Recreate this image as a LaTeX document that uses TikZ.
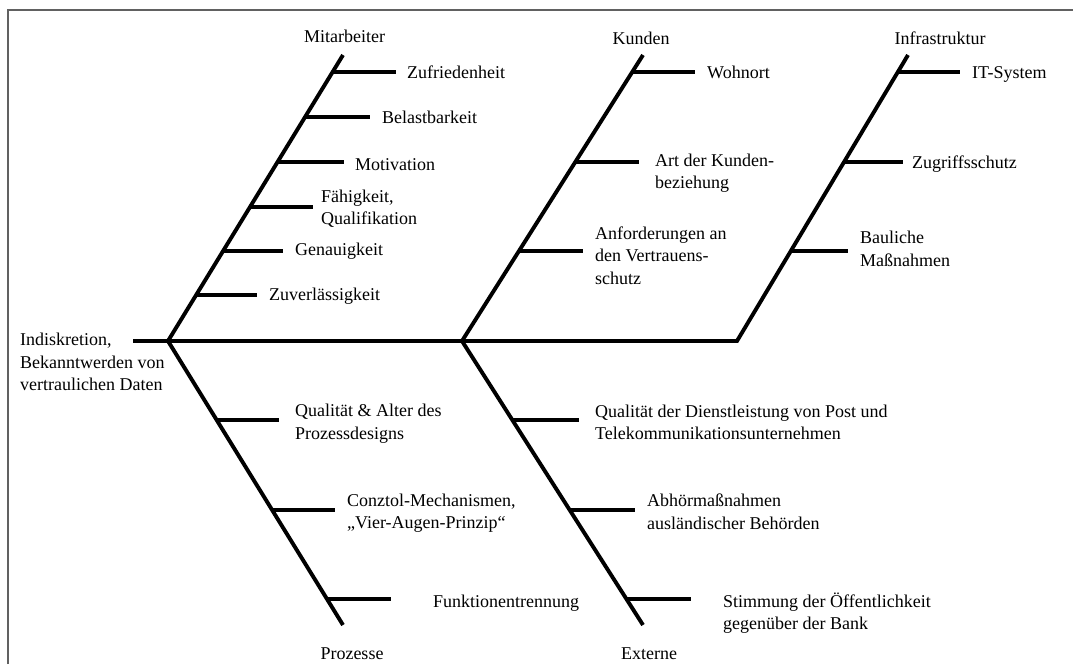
\documentclass[tikz,border=0pt]{standalone}
\usepackage{fontspec}
\setmainfont{Liberation Serif}
\begin{document}
\begin{tikzpicture}[x=1pt,y=-1pt,
  bone/.style={line width=3.9pt, line join=miter, black},
  rib/.style={line width=3.9pt, black},
  lab/.style={anchor=west, inner sep=0pt, align=left,
    font=\fontsize{18}{22.5}\selectfont,
    execute at begin node=\strut, execute at end node=\strut},
  ttl/.style={lab, anchor=center, align=center},
  frameline/.style={line width=2pt, draw=black!62}]
\useasboundingbox (0,0) rectangle (1073,664);

% open frame: top and left edge only
\coordinate (fBL) at (8,664);
\coordinate (fTL) at (8,10);
\coordinate (fTR) at (1073,10);
\draw[frameline] (fBL) -- (fTL) -- (fTR);

% spine and main bones
\coordinate (head) at (133,341);
\coordinate (j1) at (168,341);
\coordinate (j2) at (462,341);
\coordinate (j3) at (737,341);
\coordinate (mTop) at (343,55);
\coordinate (kTop) at (643,55);
\coordinate (iTop) at (908,55);
\coordinate (pEnd) at (343,625);
\coordinate (eEnd) at (643,625);

\draw[bone] (head) -- (j3) -- (iTop);
\draw[bone] (mTop) -- (j1) -- (pEnd);
\draw[bone] (kTop) -- (j2) -- (eEnd);

% effect
\node[lab] (effect) at (20,365.6) {Indiskretion,\\Bekanntwerden von\\vertraulichen Daten};

% category titles
\node[ttl] (tM) at (344.5,38.3) {Mitarbeiter};
\node[ttl] (tK) at (641,40) {Kunden};
\node[ttl] (tI) at (940,40) {Infrastruktur};
\node[ttl] (tP) at (352,655) {Prozesse};
\node[ttl] (tE) at (649,655) {Externe};

% Mitarbeiter
\foreach \n/\xa/\xb/\y in {m1/332.6/396/72, m2/305.1/370/117, m3/277.5/344/162,
                           m4/250/313/207, m5/223/283/251, m6/196/257/295}{
  \coordinate (\n a) at (\xa,\y);
  \coordinate (\n b) at (\xb,\y);
  \draw[rib] (\n a) -- (\n b);
}
\node[lab] (lm1) at (407,74) {Zufriedenheit};
\node[lab] (lm2) at (382,119) {Belastbarkeit};
\node[lab] (lm3) at (355,165.6) {Motivation};
\node[lab] (lm4) at (321,210.6) {Fähigkeit,\\Qualifikation};
\node[lab] (lm5) at (295,250.6) {Genauigkeit};
\node[lab] (lm6) at (269,295.6) {Zuverlässigkeit};

% Kunden
\foreach \n/\xa/\xb/\y in {k1/632.2/695/72, k2/575.3/639/162, k3/519/583/251}{
  \coordinate (\n a) at (\xa,\y);
  \coordinate (\n b) at (\xb,\y);
  \draw[rib] (\n a) -- (\n b);
}
\node[lab] (lk1) at (707,74) {Wohnort};
\node[lab] (lk2) at (655,174.4) {Art der Kunden-\\beziehung};
\node[lab] (lk3) at (595,258.6) {Anforderungen an\\den Vertrauens-\\schutz};

% Infrastruktur
\foreach \n/\xa/\xb/\y in {i1/897.8/960/72, i2/844/903/162, i3/790.8/848/251}{
  \coordinate (\n a) at (\xa,\y);
  \coordinate (\n b) at (\xb,\y);
  \draw[rib] (\n a) -- (\n b);
}
\node[lab] (li1) at (972,74) {IT-System};
\node[lab] (li2) at (912,164) {Zugriffsschutz};
\node[lab] (li3) at (860,252) {Bauliche\\Maßnahmen};

% Prozesse
\foreach \n/\xa/\xb/\y in {p1/216.7/279/420, p2/272/335/510, p3/327/391/599}{
  \coordinate (\n a) at (\xa,\y);
  \coordinate (\n b) at (\xb,\y);
  \draw[rib] (\n a) -- (\n b);
}
\node[lab] (lp1) at (295,425) {Qualität \& Alter des\\Prozessdesigns};
\node[lab] (lp2) at (347,514.4) {Conztol-Mechanismen,\\„Vier-Augen-Prinzip“};
\node[lab] (lp3) at (433,603.3) {Funktionentrennung};

% Externe
\foreach \n/\xa/\xb/\y in {e1/512.3/579/420, e2/569.7/635/510, e3/626.4/691/599}{
  \coordinate (\n a) at (\xa,\y);
  \coordinate (\n b) at (\xb,\y);
  \draw[rib] (\n a) -- (\n b);
}
\node[lab] (le1) at (595,425.6) {Qualität der Dienstleistung von Post und\\Telekommunikationsunternehmen};
\node[lab] (le2) at (647,514.8) {Abhörmaßnahmen\\ausländischer Behörden};
\node[lab] (le3) at (723,614.8) {Stimmung der Öffentlichkeit\\gegenüber der Bank};
\end{tikzpicture}
\end{document}
